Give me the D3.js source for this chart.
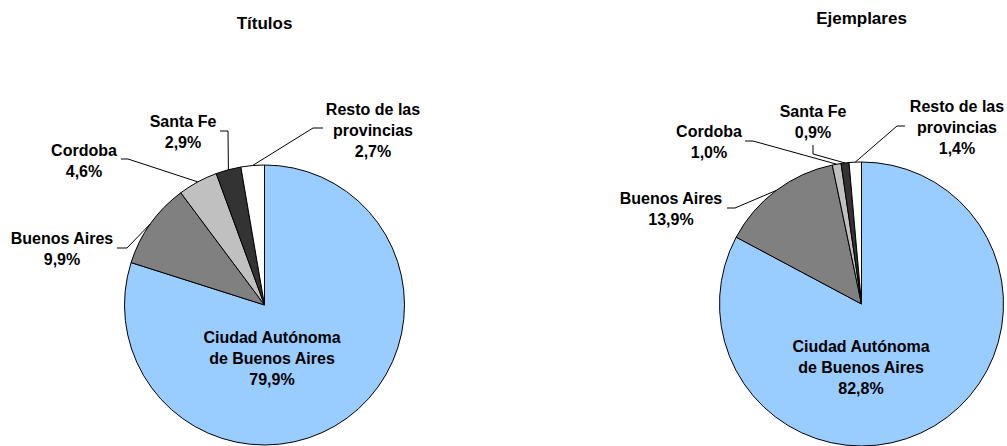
<!DOCTYPE html>
<html>
<head>
<meta charset="utf-8">
<script src="https://cdn.jsdelivr.net/npm/d3@7"></script>
<style>
  body { margin: 0; background: #fff; }
  svg text { font-family: "Liberation Sans", Arial, sans-serif; font-weight: bold; fill: #000; }
</style>
</head>
<body>
<div class="chart"></div>
<script>
const regions = ["Ciudad Autónoma de Buenos Aires", "Buenos Aires", "Cordoba", "Santa Fe", "Resto de las provincias"];
const titulosValues = [79.9, 9.9, 4.6, 2.9, 2.7];
const ejemplaresValues = [82.8, 13.9, 1.0, 0.9, 1.4];
const colors = ["#99ccff", "#808080", "#c0c0c0", "#333333", "#ffffff"];

// label text split into lines
const labelLines = [["Ciudad Autónoma", "de Buenos Aires"], ["Buenos Aires"], ["Cordoba"], ["Santa Fe"], ["Resto de las", "provincias"]];

const w = 1007, h = 446;
const lineH = 21;

// layout per pie: centre, radius, label positions and leader line bends
const pies = [
    {
        title: "Títulos", titleY: 29, cx: 264.5, cy: 305, r: 140, values: titulosValues,
        labels: [
            { x: 272, y: 337 },
            { x: 62, y: 238, leader: [[127, 248], [117, 248]] },
            { x: 84, y: 150, leader: [[128, 159], [121, 159]] },
            { x: 183, y: 121, leader: [[228, 131], [220, 131]] },
            { x: 373, y: 109, leader: [[313, 128], [323, 128]] }
        ]
    },
    {
        title: "Ejemplares", titleY: 24, cx: 861.5, cy: 304, r: 142, values: ejemplaresValues,
        labels: [
            { x: 861, y: 346 },
            { x: 671, y: 198, leader: [[735, 208], [727, 208]] },
            { x: 709, y: 131, leader: [[753, 141], [745, 141]] },
            { x: 813, y: 111, leader: [[813, 154], [813, 145]] },
            { x: 957, y: 106, leader: [[897, 126], [905, 126]] }
        ]
    }
];

const fmt = v => d3.format(".1f")(v).replace(".", ",") + "%";

const svg = d3.select(".chart").append("svg")
    .attr("width", w)
    .attr("height", h);

const pie = d3.pie().sort(null).value(d => d);

pies.forEach(p => {
    const arcs = pie(p.values);
    const arc = d3.arc().innerRadius(0).outerRadius(p.r);

    svg.append("text")
        .attr("x", p.cx)
        .attr("y", p.titleY)
        .attr("text-anchor", "middle")
        .style("font-size", "17px")
        .text(p.title);

    const g = svg.append("g")
        .attr("transform", `translate(${p.cx},${p.cy})`);

    g.selectAll("path")
        .data(arcs)
        .enter().append("path")
        .attr("d", arc)
        .attr("fill", (d, i) => colors[i])
        .attr("stroke", "#000")
        .attr("stroke-width", 1);

    // leader lines from slice edge
    arcs.forEach((d, i) => {
        const lab = p.labels[i];
        if (!lab.leader) return;
        const mid = (d.startAngle + d.endAngle) / 2;
        const start = [p.cx + p.r * Math.sin(mid), p.cy - p.r * Math.cos(mid)];
        const pts = [start].concat(lab.leader);
        svg.append("path")
            .attr("d", d3.line()(pts))
            .attr("fill", "none")
            .attr("stroke", "#000")
            .attr("stroke-width", 1);
    });

    // labels
    arcs.forEach((d, i) => {
        const lab = p.labels[i];
        const lines = labelLines[i].concat([fmt(d.data)]);
        const t = svg.append("text")
            .attr("text-anchor", "middle")
            .style("font-size", "16px");
        lines.forEach((s, k) => {
            t.append("tspan")
                .attr("x", lab.x)
                .attr("y", lab.y + k * lineH)
                .attr("dy", "0.36em")
                .text(s);
        });
    });
});
</script>
</body>
</html>
